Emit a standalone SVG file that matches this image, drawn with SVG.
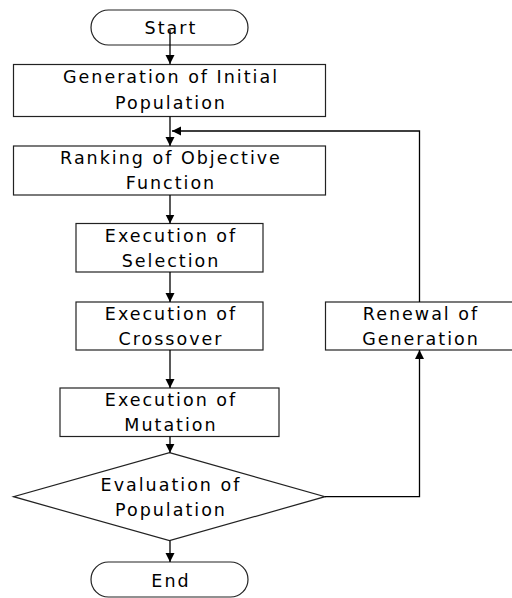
<svg xmlns="http://www.w3.org/2000/svg" width="512" height="598" viewBox="0 0 512 598">
<style>
.box{fill:#fff;stroke:#222;stroke-width:1.2}
.t{font-family:"DejaVu Sans",sans-serif;font-size:17.5px;letter-spacing:2px;text-anchor:middle;fill:#000}
.c{fill:none;stroke:#000;stroke-width:1.3}
</style>
<defs>
<marker id="ah" viewBox="0 0 10 10" refX="10" refY="5" markerWidth="9" markerHeight="10" markerUnits="userSpaceOnUse" orient="auto">
<path d="M0,0 L10,5 L0,10 z" fill="#000"/>
</marker>
</defs>
<rect width="512" height="598" fill="#fff"/>
<g id="start">
<rect class="box" x="91" y="10" width="157" height="35" rx="17.5"/>
<text class="t" x="171" y="34">Start</text>
</g>
<g id="gen">
<rect class="box" x="13.5" y="64.5" width="312" height="52"/>
<text class="t" x="171" y="83">Generation of Initial</text>
<text class="t" x="171" y="109">Population</text>
</g>
<g id="rank">
<rect class="box" x="13.5" y="146" width="312" height="49"/>
<text class="t" x="171" y="164">Ranking of Objective</text>
<text class="t" x="171" y="189">Function</text>
</g>
<g id="sel">
<rect class="box" x="76" y="223.5" width="187" height="48.5"/>
<text class="t" x="171" y="242">Execution of</text>
<text class="t" x="171" y="267">Selection</text>
</g>
<g id="cross">
<rect class="box" x="76" y="302" width="187" height="48"/>
<text class="t" x="171" y="320">Execution of</text>
<text class="t" x="171" y="345">Crossover</text>
</g>
<g id="renew">
<rect class="box" x="325.5" y="302" width="190" height="48"/>
<text class="t" x="421" y="320">Renewal of</text>
<text class="t" x="421" y="345">Generation</text>
</g>
<g id="mut">
<rect class="box" x="60" y="388" width="219" height="48.5"/>
<text class="t" x="171" y="406">Execution of</text>
<text class="t" x="171" y="431">Mutation</text>
</g>
<g id="eval">
<polygon class="box" points="169.5,452.7 325,496.7 169.5,540.7 13.5,496.7"/>
<text class="t" x="171" y="491">Evaluation of</text>
<text class="t" x="171" y="516">Population</text>
</g>
<g id="end">
<rect class="box" x="91" y="562" width="157" height="35" rx="17.5"/>
<text class="t" x="171" y="587">End</text>
</g>
<g id="connectors">
<path class="c" d="M170,30 V64" marker-end="url(#ah)"/>
<path class="c" d="M170,116.5 V146" marker-end="url(#ah)"/>
<path class="c" d="M170,195 V223.5" marker-end="url(#ah)"/>
<path class="c" d="M170,272 V302" marker-end="url(#ah)"/>
<path class="c" d="M170,350 V388" marker-end="url(#ah)"/>
<path class="c" d="M170,436.5 V452.7" marker-end="url(#ah)"/>
<path class="c" d="M170,540.7 V562" marker-end="url(#ah)"/>
<path class="c" d="M325,496.7 H419.5 V350" marker-end="url(#ah)"/>
<path class="c" d="M419.5,302 V131 H172" marker-end="url(#ah)"/>
</g>
</svg>
